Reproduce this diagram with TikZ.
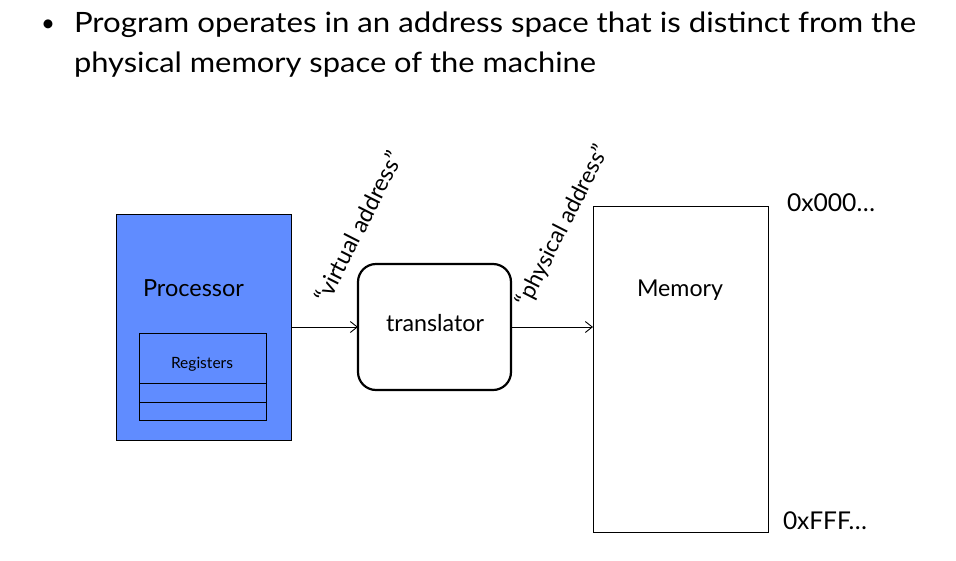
\documentclass[tikz,border=0pt]{standalone}
\usepackage{fontspec}
\setmainfont{Lato}
\usepackage{graphicx}
\usetikzlibrary{arrows.meta}
\definecolor{procblue}{RGB}{96,140,255}
\newcommand{\fitw}[2]{\resizebox{#1}{!}{#2}}
\newcommand{\fitx}[2]{\resizebox{#1}{\height}{#2}}
\begin{document}
\begin{tikzpicture}[x=1pt,y=-1pt,
  box/.style={draw, line width=1pt, inner sep=0pt, outer sep=0pt, anchor=north west},
  txt/.style={inner sep=0pt, outer sep=0pt, anchor=base west},
  rot/.style={inner sep=0pt, outer sep=0pt, anchor=center, rotate=63},
  conn/.style={-{Straight Barb[length=7pt,width=11pt]}, line width=0.9pt}]
\useasboundingbox (0,0) rectangle (956,560);
% title
\node[txt, anchor=base, font=\fontsize{24}{28}\selectfont] (bul) at (48,31) {•};
\node[txt, font=\fontsize{28}{32}\selectfont] (t1) at (74,32) {\fitx{842pt}{Program operates in an address space that is distinct from the}};
\node[txt, font=\fontsize{28}{32}\selectfont] (t2) at (74,72) {\fitx{522pt}{physical memory space of the machine}};
% processor
\node[box, fill=procblue, minimum width=175pt, minimum height=226pt] (proc) at (116,214) {};
\node[txt] (proct) at (143,296) {\fitw{101pt}{Processor}};
\node[box, minimum width=127pt, minimum height=87pt] (reg) at (139,333) {};
\node[txt] (regt) at (171,368) {\fitw{62pt}{Registers}};
\draw[line width=1pt] (139,383) -- (266,383);
\draw[line width=1pt] (139,402) -- (266,402);
% translator
\node[box, draw, line width=2.2pt, rounded corners=18pt, minimum width=153pt, minimum height=126pt] (tr) at (358,264) {};
\node[txt] (trt) at (386,331) {\fitw{98pt}{translator}};
% memory
\node[box, minimum width=175pt, minimum height=326pt] (mem) at (593,206) {};
\node[txt] (memt) at (637,296) {\fitw{86pt}{Memory}};
\node[txt] (a0) at (787,211) {\fitw{88pt}{0x000…}};
\node[txt] (a1) at (783,529) {\fitw{84pt}{0xFFF…}};
% connectors
\coordinate (p1) at (291,327);
\coordinate (m1) at (593,327);
\draw[conn] (p1) -- (p1 -| tr.west);
\draw[conn] (tr.east |- m1) -- (m1);
% labels
\node[rot] (va) at (358,227) {\fitw{166pt}{“virtual address”}};
\node[rot] (pa) at (563,226) {\fitw{178pt}{“physical address”}};
\end{tikzpicture}
\end{document}
